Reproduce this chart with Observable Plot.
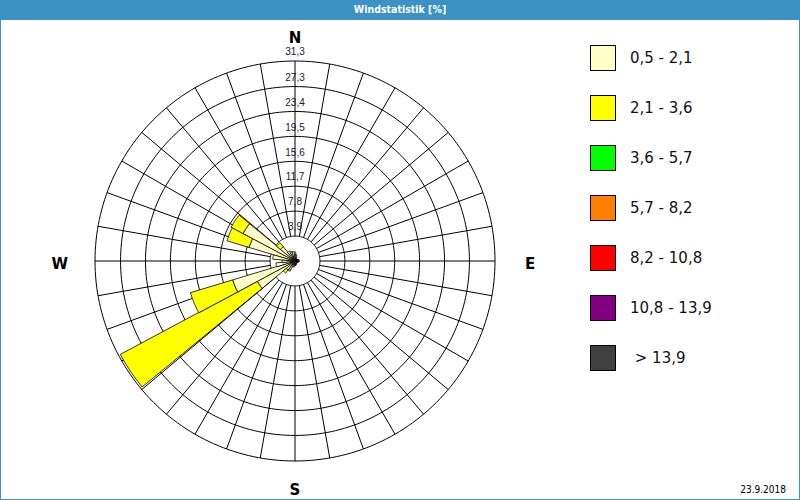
<!DOCTYPE html>
<html><head><meta charset="utf-8">
<script src="https://cdn.jsdelivr.net/npm/d3@7"></script>
<script src="https://cdn.jsdelivr.net/npm/@observablehq/plot@0.6"></script>
<style>
html,body{margin:0;padding:0;background:#fff;}
#frame{position:relative;width:800px;height:500px;box-sizing:border-box;border:1px solid #3c92c4;border-top:none;overflow:hidden;background:#fff;}
#title{position:absolute;left:-1px;top:0;width:800px;height:20px;background:#3c92c4;color:#fff;font:bold 10.5px "DejaVu Sans Condensed","DejaVu Sans",sans-serif;text-align:center;line-height:19px;}
#chart{position:absolute;left:0;top:20px;}
#legend{position:absolute;left:589px;top:45px;}
.item{position:relative;height:50px;}
.sw{position:absolute;left:0;top:0;width:24px;height:24px;border:1px solid #000;}
.lab{position:absolute;left:40px;top:4px;line-height:26px;font:15px "DejaVu Sans",sans-serif;color:#111;white-space:pre;}
#date{position:absolute;right:13px;bottom:4px;font:10px "DejaVu Sans Condensed","DejaVu Sans",sans-serif;color:#000;}
</style>
</head><body>
<div id="frame">
  <div id="title"></div>
  <div id="chart"></div>
  <div id="legend"></div>
  <div id="date"></div>
</div>
<script>
const titleText = "Windstatistik [%]";
const dateText = "23.9.2018";

// 32 direction sectors (bearing, degrees clockwise from north)
const sectors = d3.range(32).map(i => i * 11.25);
// frequency [%] per sector, class 0,5 - 2,1 m/s
const class1 = [1.4, 1.0, 0.6, 0.4, 0.4, 0.4, 0.5, 0.6,
                0.7, 0.6, 0.5, 0.4, 0.4, 0.4, 0.5, 0.6,
                0.7, 0.8, 1.0, 1.5, 1.8, 6.7, 10.2, 3.0,
                2.0, 3.5, 7.5, 9.2, 2.9, 1.8, 1.6, 1.5];
// frequency [%] per sector, class 2,1 - 3,6 m/s
const class2 = [0, 0, 0, 0, 0, 0, 0, 0,
                0, 0, 0, 0, 0, 0, 0, 0,
                0, 0, 0, 0.3, 0.6, 24.3, 6.9, 0,
                0, 0, 3.6, 2.1, 0.8, 0, 0, 0];
const series = [class1, class2];

const classes = ["0,5 - 2,1", "2,1 - 3,6", "3,6 - 5,7", "5,7 - 8,2", "8,2 - 10,8", "10,8 - 13,9", " > 13,9"];
const colors = ["#ffffc8", "#ffff00", "#00ff00", "#ff8000", "#ff0000", "#800080", "#404040"];

const ringValues = [3.9, 7.8, 11.7, 15.6, 19.5, 23.4, 27.3, 31.3];
const ringLabels = ["3,9", "7,8", "11,7", "15,6", "19,5", "23,4", "27,3", "31,3"];
const spokeAngles = d3.range(0, 360, 10);
const compass = ["N", "E", "S", "W"];
const compassBearing = [0, 90, 180, 270];

const rad = Math.PI / 180;
const px = (r, a) => r * Math.sin(a * rad);
const py = (r, a) => r * Math.cos(a * rad);

// wedge polygons (stacked classes)
const half = 11.25 / 2;
const wedgePts = [];
sectors.forEach((b, i) => {
  let r0 = 0;
  series.forEach((s, k) => {
    const v = s[i];
    if (!v) return;
    const r1 = r0 + v;
    const id = i * 10 + k;
    const n = 12;
    for (let j = 0; j <= n; j++) {
      const a = b - half + (2 * half) * j / n;
      wedgePts.push({id, cls: classes[k], x: px(r1, a), y: py(r1, a)});
    }
    if (r0 === 0) wedgePts.push({id, cls: classes[k], x: 0, y: 0});
    else for (let j = n; j >= 0; j--) {
      const a = b - half + (2 * half) * j / n;
      wedgePts.push({id, cls: classes[k], x: px(r0, a), y: py(r0, a)});
    }
    r0 = r1;
  });
});

const ringPts = ringValues.flatMap((r, k) => d3.range(0, 360, 1.5).map(a => ({k, x: px(r, a), y: py(r, a)})));
const rIn = ringValues[0], rOut = ringValues[ringValues.length - 1];
const labelR = b => (b % 180 === 0 ? 35.4 : 36.8);

const plot = Plot.plot({
  width: 798,
  height: 479,
  margin: 0,
  x: {domain: [-rOut, rOut], range: [93.5, 493.5], axis: null},
  y: {domain: [-rOut, rOut], range: [440.5, 40.5], axis: null},
  color: {domain: classes, range: colors},
  style: {background: "white", overflow: "visible"},
  marks: [
    Plot.line(ringPts, {x: "x", y: "y", z: "k", curve: "linear-closed", stroke: "black", strokeWidth: 1}),
    Plot.link(spokeAngles, {x1: a => px(rIn, a), y1: a => py(rIn, a), x2: a => px(rOut, a), y2: a => py(rOut, a), stroke: "black", strokeWidth: 1}),
    Plot.line(wedgePts, {x: "x", y: "y", z: "id", fill: "cls", stroke: "black", strokeWidth: 0.8, curve: "linear-closed"}),
    Plot.text(ringValues, {x: () => 0, y: d => d, text: (d, i) => ringLabels[i], dy: -9, fontSize: 10, fill: "#1a1a30", fontFamily: "Liberation Sans, sans-serif"}),
    Plot.text(compass, {
      x: (d, i) => px(labelR(compassBearing[i]), compassBearing[i]),
      y: (d, i) => py(labelR(compassBearing[i]), compassBearing[i]),
      text: d => d, dy: 3, fontSize: 15, fontWeight: "bold", fill: "#000", fontFamily: "DejaVu Sans, sans-serif"
    })
  ]
});
document.getElementById("chart").appendChild(plot);
document.getElementById("title").textContent = titleText;
document.getElementById("date").textContent = dateText;

const legend = document.getElementById("legend");
classes.forEach((c, i) => {
  const item = document.createElement("div");
  item.className = "item";
  const sw = document.createElement("div");
  sw.className = "sw";
  sw.style.background = colors[i];
  const lab = document.createElement("div");
  lab.className = "lab";
  lab.textContent = c;
  item.appendChild(sw);
  item.appendChild(lab);
  legend.appendChild(item);
});
</script>
</body></html>
